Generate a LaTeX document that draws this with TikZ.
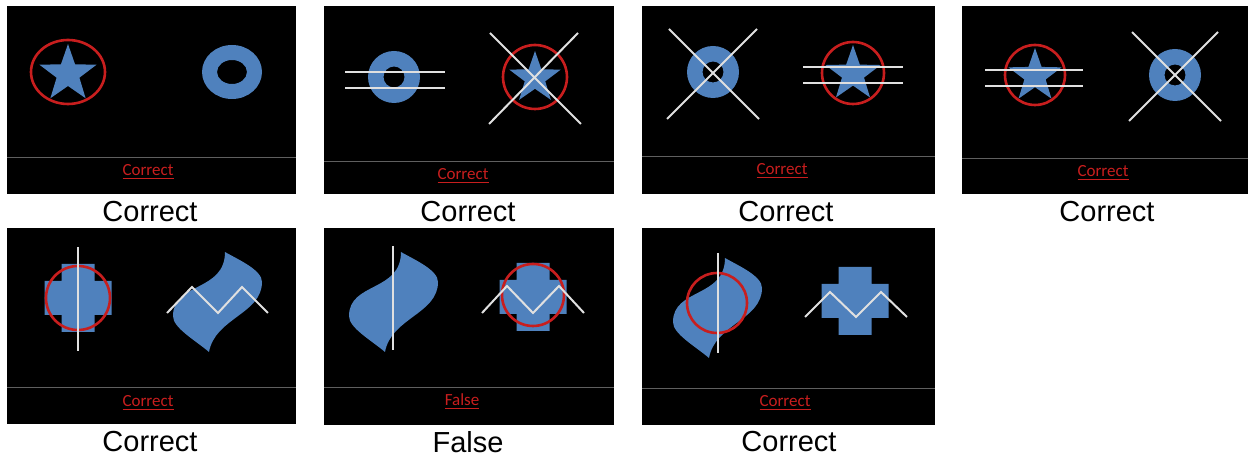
\documentclass[tikz,border=0pt]{standalone}
\usepackage{fontspec}
\setmainfont{Liberation Sans}
\newfontfamily\slidefont{Carlito}
\usepackage{tikz}
\usetikzlibrary{positioning}

\definecolor{shapeblue}{RGB}{79,129,189}
\definecolor{markred}{RGB}{200,30,30}
\definecolor{rulegray}{RGB}{95,95,95}

\begin{document}
\begin{tikzpicture}[x=0.5pt, y=-0.5pt,
  slide/.style={fill=black},
  divider/.style={draw=rulegray, line width=0.5pt},
  verdict/.style={text=markred, inner sep=0pt,
                  font=\slidefont\fontsize{8.5}{9}\selectfont},
  caption/.style={inner sep=0pt, font=\fontsize{14.5}{16}\selectfont},
  redring/.style={draw=markred, line width=1.3pt},
  stroke/.style={draw=white!88!black, line width=1pt},
  shapefill/.style={fill=shapeblue},
  pics/bluestar/.style={code={
    \fill[shapefill] (-90:#1) \foreach \a in {0,...,4}
      { -- (-54+72*\a:{0.4*#1}) -- (-18+72*\a:#1) } -- cycle;}},
  pics/plus/.style={code={
    \fill[shapefill] (-16.5,-34) rectangle (16.5,34)
                     (-33.5,-17) rectangle (33.5,17);}},
  pics/wave/.style={code={
    \fill[shapefill] (0,0) .. controls (14,8) and (37,18) .. (37,30)
      .. controls (37,62) and (-10,66) .. (-16,100)
      .. controls (-30,88) and (-52,76) .. (-52,64)
      .. controls (-52,30) and (0,40) .. (0,0) -- cycle;}},
]
  \useasboundingbox (0,0) rectangle (1248,458);

  % Slide backgrounds
  \fill[slide] (7,6) rectangle (296,194);
  \fill[slide] (324,6) rectangle (614,194);
  \fill[slide] (642,6) rectangle (935,194);
  \fill[slide] (962,6) rectangle (1248,194);
  \fill[slide] (7,228) rectangle (296,424);
  \fill[slide] (324,228) rectangle (614,425);
  \fill[slide] (642,228) rectangle (935,425);

  % Dividers
  \draw[divider] (7,158) -- (296,158);
  \draw[divider] (324,162) -- (614,162);
  \draw[divider] (642,157) -- (935,157);
  \draw[divider] (962,159) -- (1248,159);
  \draw[divider] (7,388) -- (296,388);
  \draw[divider] (324,388) -- (614,388);
  \draw[divider] (642,389) -- (935,389);

  % Slide 1
  \pic at (68,74) {bluestar=30};
  \draw[redring] (68,72) ellipse [x radius=37, y radius=32];
  \fill[shapefill, even odd rule] (232,72) ellipse [x radius=30, y radius=27]
    (232,72) ellipse [x radius=15, y radius=12];

  % Slide 2
  \fill[shapefill, even odd rule] (394,77) circle [radius=26]
    (394,77) circle [radius=10.5];
  \draw[stroke] (345,72) -- (445,72) (345,88) -- (445,88);
  \pic at (535,78) {bluestar=27};
  \draw[redring] (535,77) circle [radius=32];
  \draw[stroke] (490,33) -- (581,124) (578,33) -- (489,124);

  % Slide 3
  \fill[shapefill, even odd rule] (713,72) circle [radius=26]
    (713,72) circle [radius=10.5];
  \draw[stroke] (669,29) -- (759,119) (757,29) -- (667,119);
  \pic at (853,74) {bluestar=29};
  \draw[redring] (853,73) circle [radius=31];
  \draw[stroke] (803,67) -- (903,67) (803,83) -- (903,83);

  % Slide 4
  \pic at (1035,76) {bluestar=28};
  \draw[redring] (1035,75) circle [radius=30];
  \draw[stroke] (985,70) -- (1083,70) (985,86) -- (1083,86);
  \fill[shapefill, even odd rule] (1175,75) circle [radius=26]
    (1175,75) circle [radius=10.5];
  \draw[stroke] (1132,32) -- (1221,121) (1218,32) -- (1129,121);

  % Slide 5
  \pic at (78,298) {plus};
  \draw[redring] (78,298) circle [radius=32];
  \draw[stroke] (78,247) -- (78,351);
  \pic at (225,252) {wave};
  \draw[stroke] (167,313) -- (192,287) -- (218,313) -- (242,287) -- (268,313);

  % Slide 6
  \pic at (401,252) {wave};
  \draw[stroke] (393,246) -- (393,350);
  \pic at (533,297) {plus};
  \draw[redring] (533,295) circle [radius=31];
  \draw[stroke] (482,313) -- (507,286) -- (533,313) -- (559,286) -- (584,313);

  % Slide 7
  \pic at (725,258) {wave};
  \draw[redring] (717,303) circle [radius=30];
  \draw[stroke] (718,253) -- (718,353);
  \pic at (855,301) {plus};
  \draw[stroke] (805,317) -- (830,292) -- (856,317) -- (881,292) -- (907,317);

  % Verdicts on the slides
  \node[verdict] (v1) at (148,172) {\underline{Correct}};
  \node[verdict] (v2) at (463,176) {\underline{Correct}};
  \node[verdict] (v3) at (782,171) {\underline{Correct}};
  \node[verdict] (v4) at (1103,173) {\underline{Correct}};
  \node[verdict] (v5) at (148,403) {\underline{Correct}};
  \node[verdict] (v6) at (462,402) {\underline{False}};
  \node[verdict] (v7) at (785,403) {\underline{Correct}};

  % Captions
  \node[caption] (c1) at (150,212) {Correct};
  \node[caption] (c2) at (468,212) {Correct};
  \node[caption] (c3) at (786,212) {Correct};
  \node[caption] (c4) at (1107,212) {Correct};
  \node[caption] (c5) at (150,442) {Correct};
  \node[caption] (c6) at (468,442) {False};
  \node[caption] (c7) at (789,442) {Correct};
\end{tikzpicture}
\end{document}
